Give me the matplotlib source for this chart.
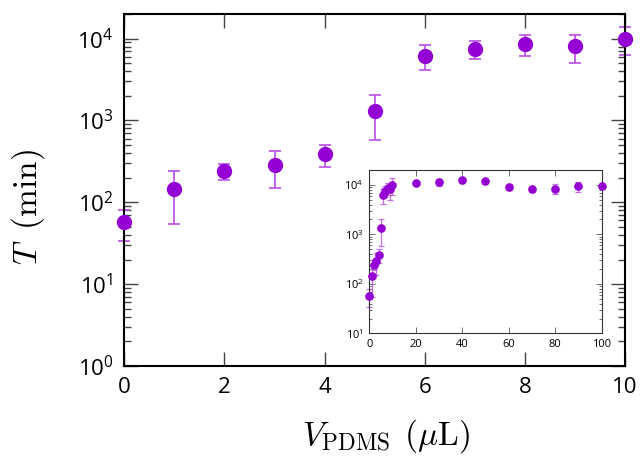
import matplotlib
matplotlib.use("Agg")
import matplotlib.pyplot as plt
from matplotlib.ticker import LogLocator, NullFormatter, FixedLocator
import numpy as np

# Main data (V_PDMS in uL, T in min)
v_main = [0, 1, 2, 3, 4, 5, 6, 7, 8, 9, 10]
t_main = [58, 145, 244, 286, 385, 1324, 6200, 7480, 8520, 8050, 10000]
t_main_hi = [80, 239, 297, 419, 495, 2060, 8280, 9380, 10960, 10960, 14000]
t_main_lo = [34, 55, 189, 148, 270, 582, 4150, 5650, 6150, 5000, 6330]

# Inset extra data
v_ext = [20, 30, 40, 50, 60, 70, 80, 90, 100]
t_ext = [10800, 11300, 12400, 12000, 9100, 8400, 8400, 9400, 9600]
t_ext_hi = [12000, 13400, 14000, 12800, 10500, 9500, 10500, 11500, 10300]
t_ext_lo = [9700, 9540, 10800, 11200, 7900, 7300, 6600, 7300, 8900]

x_ticks_main = [0, 2, 4, 6, 8, 10]
x_ticks_inset = [0, 20, 40, 60, 80, 100]

MARK = "#9400D3"
ERRC = "#b94ee6"

plt.rcParams["mathtext.fontset"] = "cm"
plt.rcParams["font.family"] = ["Open Sans", "DejaVu Sans"]

fig = plt.figure(figsize=(6.41, 4.58), dpi=100)
ax = fig.add_axes([0.194, 0.2009, 0.781, 0.7685])

t = np.array(t_main, float)
yerr = np.array([t - np.array(t_main_lo), np.array(t_main_hi) - t])
ax.errorbar(v_main, t, yerr=yerr, fmt="none", ecolor=ERRC, elinewidth=1.2,
            capsize=4.5, capthick=1.2, zorder=2, clip_on=False)
ax.plot(v_main, t, "o", color=MARK, markersize=10, zorder=3, clip_on=False)

ax.set_yscale("log")
ax.set_xlim(0, 10)
ax.set_ylim(1, 2e4)
ax.xaxis.set_major_locator(FixedLocator(x_ticks_main))
ax.yaxis.set_major_locator(LogLocator(base=10, numticks=10))
ax.yaxis.set_minor_locator(LogLocator(base=10, subs=np.arange(2, 10), numticks=20))
ax.yaxis.set_minor_formatter(NullFormatter())
ax.tick_params(which="both", direction="in", top=True, right=True, labelsize=16, pad=8)
ax.tick_params(which="major", length=10, width=1.0, color="#444444")
ax.tick_params(which="minor", length=5, width=1.0, color="#444444")
for s in ax.spines.values():
    s.set_linewidth(1.5)
ax.set_xlabel(r"$V_{\mathrm{PDMS}}\;\,(\mu\mathrm{L})$", fontsize=24)
ax.set_ylabel(r"$T\;\;(\mathrm{min})$", fontsize=24)
ax.xaxis.set_label_coords(0.523, -0.145)
ax.yaxis.set_label_coords(-0.155, 0.452)

# Inset
axi = fig.add_axes([0.576, 0.272, 0.3627, 0.357])
vi = v_main + v_ext
ti = np.array(t_main + t_ext, float)
lo = np.array(t_main_lo + t_ext_lo, float)
hi = np.array(t_main_hi + t_ext_hi, float)
axi.errorbar(vi, ti, yerr=[ti - lo, hi - ti], fmt="none", ecolor=ERRC, elinewidth=0.9,
             capsize=2.2, capthick=0.9, alpha=0.8, zorder=2, clip_on=False)
axi.plot(vi, ti, "o", color=MARK, markersize=5.2, zorder=3, clip_on=False)
axi.set_yscale("log")
axi.set_xlim(0, 100)
axi.set_ylim(10, 2e4)
axi.xaxis.set_major_locator(FixedLocator(x_ticks_inset))
axi.yaxis.set_major_locator(LogLocator(base=10, numticks=10))
axi.yaxis.set_minor_locator(LogLocator(base=10, subs=np.arange(2, 10), numticks=20))
axi.yaxis.set_minor_formatter(NullFormatter())
axi.tick_params(which="both", direction="in", top=True, right=True, labelsize=8, pad=4)
axi.tick_params(which="major", length=4, width=0.6, color="#555555")
axi.tick_params(which="minor", length=2, width=0.6, color="#555555")
for s in axi.spines.values():
    s.set_linewidth(0.8)
    s.set_color("#333333")

fig.savefig("out.png", dpi=100)
